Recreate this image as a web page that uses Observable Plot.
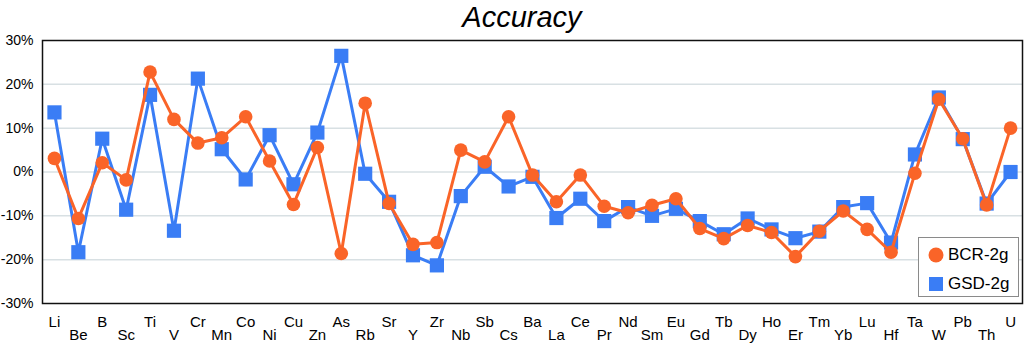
<!DOCTYPE html>
<html><head><meta charset="utf-8">
<script src="https://cdn.jsdelivr.net/npm/d3@7"></script>
<script src="https://cdn.jsdelivr.net/npm/@observablehq/plot@0.6"></script>
<style>
body{margin:0;background:#fff;font-family:"Liberation Sans",Arial,sans-serif;}
#wrap{position:relative;width:1024px;height:344px;overflow:hidden;}
#title{height:32px;line-height:34px;text-align:center;font-style:italic;font-size:29px;color:#000;padding-left:20px;box-sizing:border-box;}
#legend{position:absolute;left:918px;top:237px;width:99px;height:58px;border:1.5px solid #8a8a8a;background:#fff;}
.entry{position:absolute;left:0;height:20px;font-size:17px;line-height:20px;color:#000;}
.entry svg{position:absolute;left:9px;top:2px;}
.entry span{position:absolute;left:29px;top:0;white-space:nowrap;}
</style></head>
<body>
<div id="wrap"><div id="title">Accuracy</div><div id="chart"></div><div id="legend"></div></div>
<script>
const elements = ["Li","Be","B","Sc","Ti","V","Cr","Mn","Co","Ni","Cu","Zn","As","Rb","Sr","Y","Zr","Nb","Sb","Cs","Ba","La","Ce","Pr","Nd","Sm","Eu","Gd","Tb","Dy","Ho","Er","Tm","Yb","Lu","Hf","Ta","W","Pb","Th","U"];
const bcr = [3.1,-10.6,2.1,-1.8,22.8,12.0,6.6,7.8,12.6,2.5,-7.4,5.6,-18.6,15.7,-7.2,-16.5,-16.1,5.0,2.3,12.6,-0.7,-6.8,-0.7,-7.8,-9.3,-7.6,-6.1,-12.9,-15.2,-12.2,-13.8,-19.3,-13.5,-8.9,-13.1,-18.3,-0.3,16.6,7.6,-7.5,10.0];
const gsd = [13.6,-18.3,7.6,-8.6,17.6,-13.4,21.3,5.2,-1.7,8.4,-2.8,9.0,26.5,-0.4,-6.8,-19.0,-21.3,-5.5,1.2,-3.3,-1.1,-10.5,-6.1,-11.2,-8.0,-10.0,-8.4,-11.2,-14.2,-10.6,-13.1,-15.1,-13.6,-8.0,-7.1,-16.1,4.0,17.0,7.5,-7.2,0.0];
const seriesNames = ["BCR-2g","GSD-2g"];
const seriesColors = ["#fa6428","#3a7df5"];
const yTicks = [-30,-20,-10,0,10,20,30];

const rows = [];
elements.forEach((e,i)=>{
  rows.push({el:e, series:seriesNames[0], v:bcr[i]});
  rows.push({el:e, series:seriesNames[1], v:gsd[i]});
});
const bcrRows = rows.filter(r=>r.series===seriesNames[0]);
const gsdRows = rows.filter(r=>r.series===seriesNames[1]);
const evenEls = elements.filter((e,i)=>i%2===0);
const oddEls = elements.filter((e,i)=>i%2===1);

const chart = Plot.plot({
  width:1024, height:312,
  marginTop:8, marginBottom:41, marginLeft:42, marginRight:2,
  style:{fontFamily:"'Liberation Sans', Arial, sans-serif", color:"#000", background:"#fff"},
  x:{type:"point", domain:elements, padding:0.5, axis:null, label:null},
  y:{domain:[-30,30], axis:null, label:null},
  marks:[
    Plot.ruleY(yTicks.slice(1,-1), {stroke:"#d8e0e3", strokeWidth:1.5}),
    Plot.axisY(yTicks, {tickSize:0, tickPadding:9, fontSize:14, label:null, tickFormat:d=>d+"%"}),
    Plot.axisX(evenEls, {tickSize:0, tickPadding:13, fontSize:15, label:null}),
    Plot.axisX(oddEls, {tickSize:0, tickPadding:26, fontSize:15, label:null}),
    Plot.line(gsdRows, {x:"el", y:"v", stroke:seriesColors[1], strokeWidth:3}),
    Plot.dot(gsdRows, {x:"el", y:"v", symbol:"square", r:8, fill:seriesColors[1]}),
    Plot.line(bcrRows, {x:"el", y:"v", stroke:seriesColors[0], strokeWidth:3}),
    Plot.dot(bcrRows, {x:"el", y:"v", r:6.8, fill:seriesColors[0]}),
    Plot.frame({stroke:"#111", strokeWidth:1.5})
  ]
});
document.getElementById("chart").appendChild(chart);

const leg = document.getElementById("legend");
seriesNames.forEach((n,i)=>{
  const d = document.createElement("div");
  d.className="entry";
  d.style.top = (i===0? 7 : 36)+"px";
  const shape = i===0
    ? `<circle cx="8" cy="8" r="7.5" fill="${seriesColors[i]}"/>`
    : `<rect x="1" y="1" width="14" height="14" fill="${seriesColors[i]}"/>`;
  d.innerHTML = `<svg width="16" height="16">${shape}</svg><span>${n}</span>`;
  leg.appendChild(d);
});
</script>
</body></html>
